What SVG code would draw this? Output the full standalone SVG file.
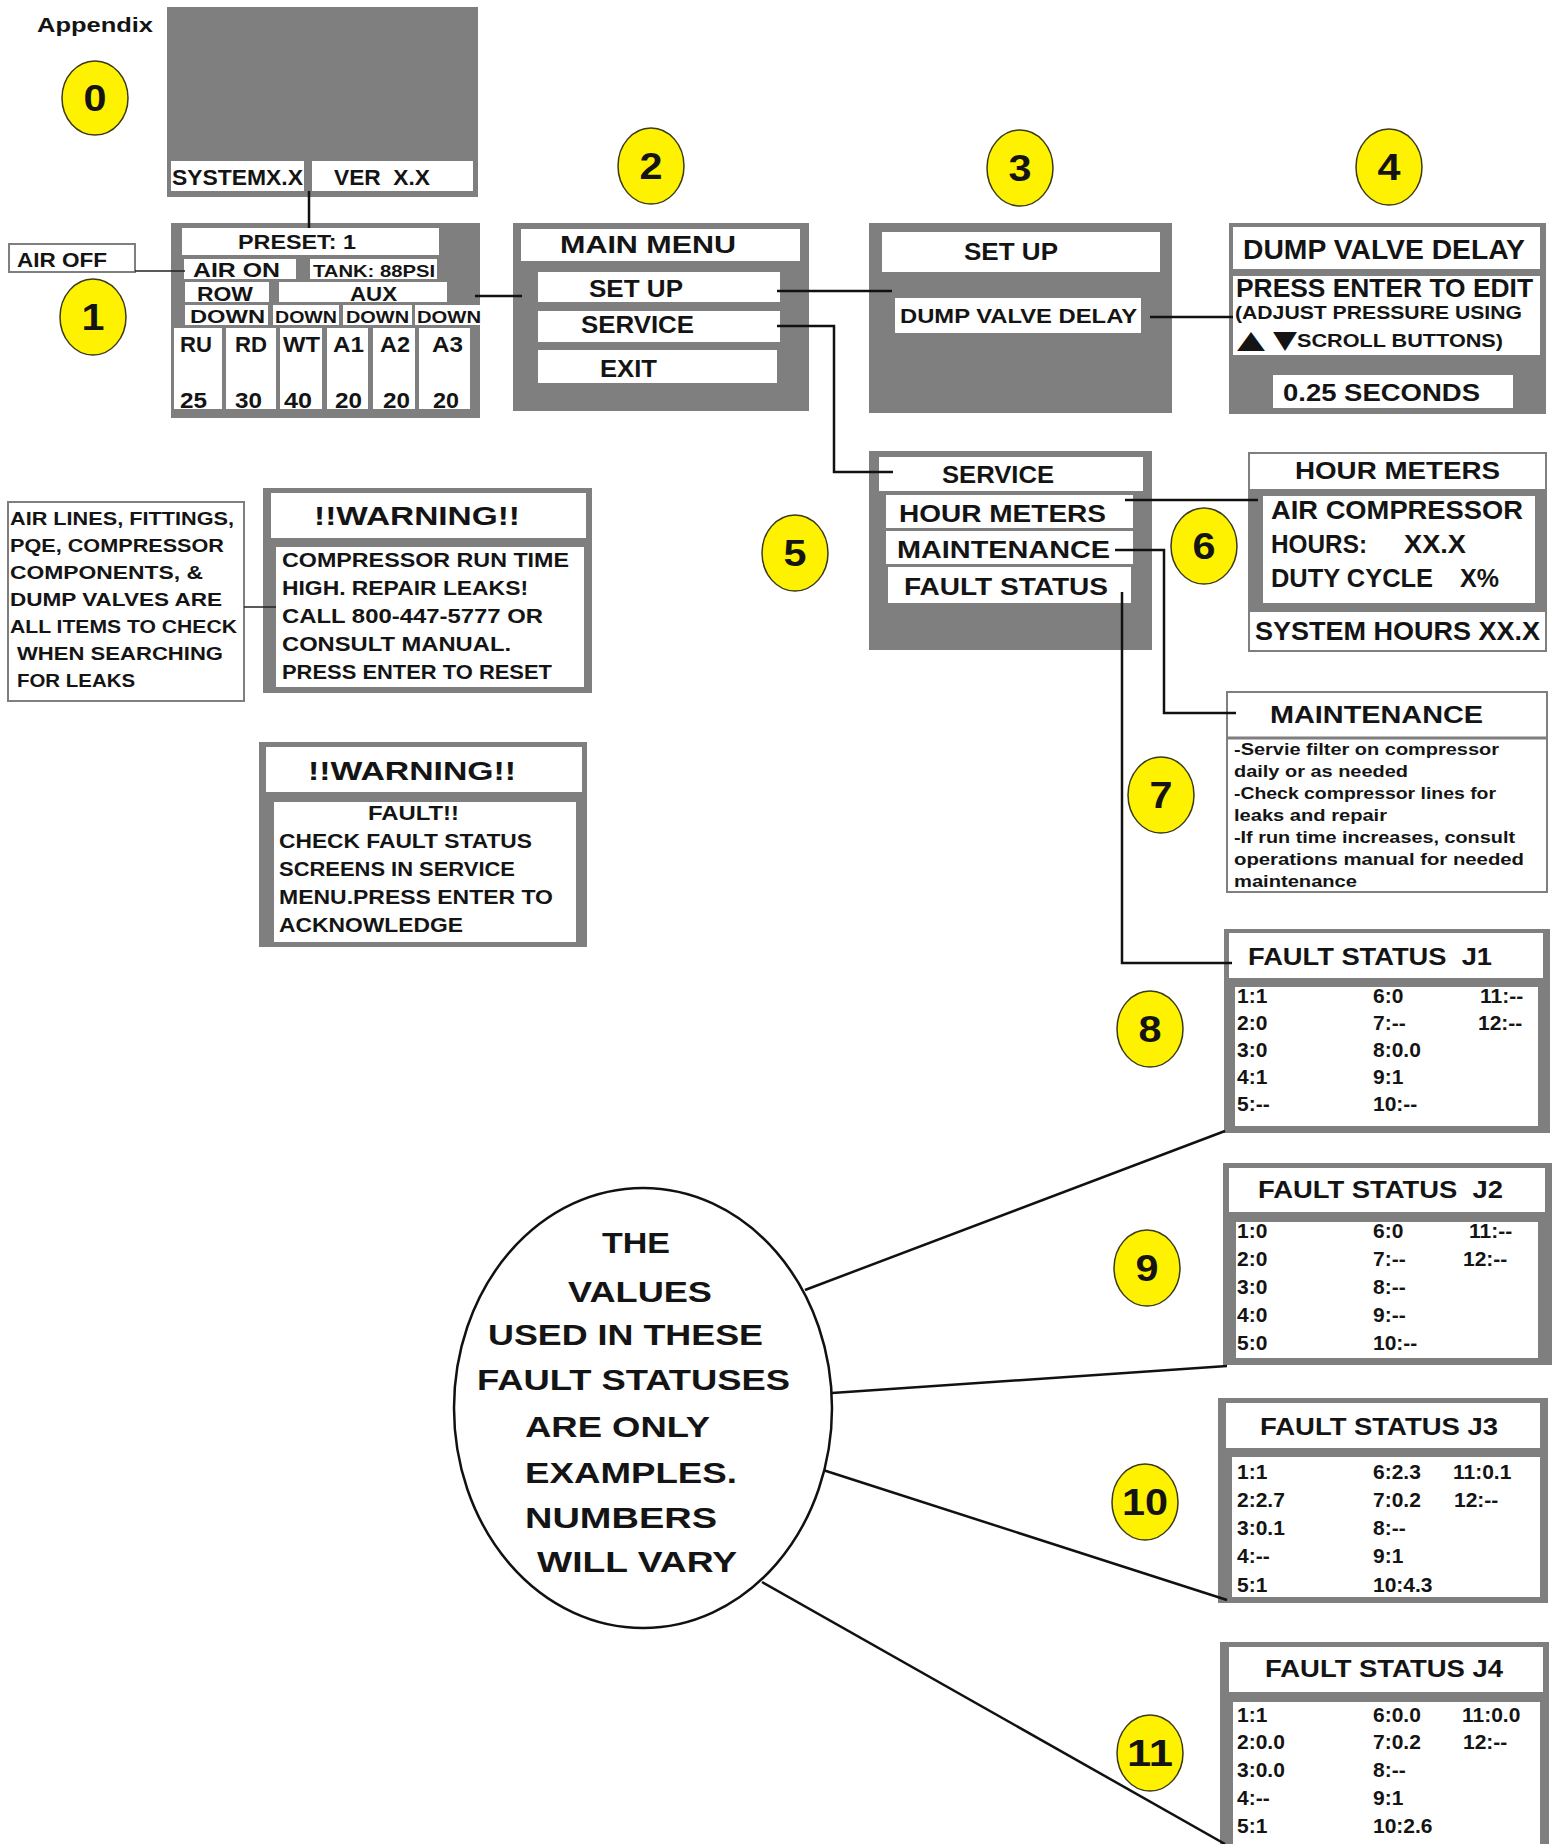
<svg xmlns="http://www.w3.org/2000/svg" width="1554" height="1844" viewBox="0 0 1554 1844">
<style>
text{font-family:"Liberation Sans",Arial,sans-serif;font-weight:bold;fill:#141414}
.g{fill:#7f7f7f}
.w{fill:#ffffff}
.wb{fill:#ffffff;stroke:#7f7f7f;stroke-width:2}
.c{fill:#fff200;stroke:#3a3a1a;stroke-width:1.5}
.n{font-size:36px;text-anchor:middle}
.cn{fill:none;stroke:#111;stroke-width:2.5}
.cs{fill:none;stroke:#222;stroke-width:1.5}
.r{font-size:21px}
</style>
<rect width="1554" height="1844" fill="#ffffff"/>
<text x="37" y="32" font-size="20" textLength="116" lengthAdjust="spacingAndGlyphs">Appendix</text>

<g id="screen0">
<rect class="g" x="167" y="7" width="311" height="190"/>
<rect class="w" x="171" y="161" width="133" height="30"/>
<rect class="w" x="312" y="161" width="161" height="30"/>
<text x="172" y="185" font-size="22" textLength="131" lengthAdjust="spacingAndGlyphs">SYSTEMX.X</text>
<text x="334" y="185" font-size="22" textLength="96" lengthAdjust="spacingAndGlyphs">VER&#160; X.X</text>
</g>

<g id="airoff">
<rect class="wb" x="9" y="244" width="126" height="28"/>
<text x="17" y="267" font-size="21" textLength="90" lengthAdjust="spacingAndGlyphs">AIR OFF</text>
</g>

<g id="screen1">
<rect class="g" x="171" y="223" width="309" height="195"/>
<rect class="w" x="182" y="228" width="257" height="27"/>
<rect class="w" x="184" y="259" width="112" height="20"/>
<rect class="w" x="310" y="259" width="127" height="20"/>
<rect class="w" x="185" y="282" width="84" height="20"/>
<rect class="w" x="279" y="282" width="168" height="20"/>
<rect class="w" x="185" y="305" width="83" height="20"/>
<rect class="w" x="273" y="305" width="66" height="20"/>
<rect class="w" x="343" y="305" width="69" height="20"/>
<rect class="w" x="415" y="305" width="65" height="20"/>
<rect class="w" x="174" y="328" width="48" height="81"/>
<rect class="w" x="226" y="328" width="50" height="81"/>
<rect class="w" x="280" y="328" width="42" height="81"/>
<rect class="w" x="327" y="328" width="41" height="81"/>
<rect class="w" x="373" y="328" width="42" height="81"/>
<rect class="w" x="419" y="328" width="51" height="81"/>
<text x="238" y="249" font-size="20" textLength="118" lengthAdjust="spacingAndGlyphs">PRESET: 1</text>
<text x="193" y="277" font-size="21" textLength="87" lengthAdjust="spacingAndGlyphs">AIR ON</text>
<text x="313" y="277" font-size="17" textLength="122" lengthAdjust="spacingAndGlyphs">TANK: 88PSI</text>
<text x="197" y="301" font-size="20" textLength="56" lengthAdjust="spacingAndGlyphs">ROW</text>
<text x="350" y="301" font-size="20" textLength="47" lengthAdjust="spacingAndGlyphs">AUX</text>
<text x="190" y="323" font-size="19" textLength="75" lengthAdjust="spacingAndGlyphs">DOWN</text>
<text x="275" y="323" font-size="16" textLength="62" lengthAdjust="spacingAndGlyphs">DOWN</text>
<text x="346" y="323" font-size="16" textLength="63" lengthAdjust="spacingAndGlyphs">DOWN</text>
<text x="417" y="323" font-size="16" textLength="64" lengthAdjust="spacingAndGlyphs">DOWN</text>
<text x="180" y="352" font-size="22" textLength="32" lengthAdjust="spacingAndGlyphs">RU</text>
<text x="235" y="352" font-size="22" textLength="32" lengthAdjust="spacingAndGlyphs">RD</text>
<text x="283" y="352" font-size="22" textLength="37" lengthAdjust="spacingAndGlyphs">WT</text>
<text x="333" y="352" font-size="22" textLength="31" lengthAdjust="spacingAndGlyphs">A1</text>
<text x="380" y="352" font-size="22" textLength="30" lengthAdjust="spacingAndGlyphs">A2</text>
<text x="432" y="352" font-size="22" textLength="31" lengthAdjust="spacingAndGlyphs">A3</text>
<text x="180" y="408" font-size="22" textLength="27" lengthAdjust="spacingAndGlyphs">25</text>
<text x="235" y="408" font-size="22" textLength="27" lengthAdjust="spacingAndGlyphs">30</text>
<text x="284" y="408" font-size="22" textLength="28" lengthAdjust="spacingAndGlyphs">40</text>
<text x="335" y="408" font-size="22" textLength="27" lengthAdjust="spacingAndGlyphs">20</text>
<text x="383" y="408" font-size="22" textLength="27" lengthAdjust="spacingAndGlyphs">20</text>
<text x="433" y="408" font-size="22" textLength="26" lengthAdjust="spacingAndGlyphs">20</text>
</g>

<g id="mainmenu">
<rect class="g" x="513" y="223" width="296" height="188"/>
<rect class="w" x="521" y="229" width="279" height="32"/>
<rect class="w" x="538" y="272" width="242" height="30"/>
<rect class="w" x="538" y="311" width="242" height="31"/>
<rect class="w" x="538" y="350" width="239" height="33"/>
<text x="560" y="253" font-size="24" textLength="176" lengthAdjust="spacingAndGlyphs">MAIN MENU</text>
<text x="589" y="297" font-size="24" textLength="94" lengthAdjust="spacingAndGlyphs">SET UP</text>
<text x="581" y="333" font-size="24" textLength="113" lengthAdjust="spacingAndGlyphs">SERVICE</text>
<text x="600" y="377" font-size="24" textLength="57" lengthAdjust="spacingAndGlyphs">EXIT</text>
</g>

<g id="setup">
<rect class="g" x="869" y="223" width="303" height="190"/>
<rect class="w" x="882" y="232" width="278" height="40"/>
<rect class="w" x="895" y="298" width="246" height="35"/>
<text x="964" y="260" font-size="24" textLength="94" lengthAdjust="spacingAndGlyphs">SET UP</text>
<text x="900" y="323" font-size="21" textLength="237" lengthAdjust="spacingAndGlyphs">DUMP VALVE DELAY</text>
</g>

<g id="dumpvalve">
<rect class="g" x="1229" y="223" width="317" height="191"/>
<rect class="w" x="1233" y="227" width="307" height="42"/>
<rect class="w" x="1233" y="276" width="307" height="79"/>
<rect class="w" x="1273" y="375" width="240" height="33"/>
<text x="1243" y="259" font-size="27" textLength="282" lengthAdjust="spacingAndGlyphs">DUMP VALVE DELAY</text>
<text x="1236" y="297" font-size="25" textLength="297" lengthAdjust="spacingAndGlyphs">PRESS ENTER TO EDIT</text>
<text x="1235" y="319" font-size="19" textLength="287" lengthAdjust="spacingAndGlyphs">(ADJUST PRESSURE USING</text>
<text x="1237" y="348" font-size="25" style="font-family:'DejaVu Sans',sans-serif" textLength="28" lengthAdjust="spacingAndGlyphs">▲</text>
<text x="1273" y="348" font-size="25" style="font-family:'DejaVu Sans',sans-serif" textLength="24" lengthAdjust="spacingAndGlyphs">▼</text>
<text x="1297" y="347" font-size="19" textLength="206" lengthAdjust="spacingAndGlyphs">SCROLL BUTTONS)</text>
<text x="1283" y="401" font-size="24" textLength="197" lengthAdjust="spacingAndGlyphs">0.25 SECONDS</text>
</g>

<g id="service">
<rect class="g" x="869" y="451" width="283" height="199"/>
<rect class="w" x="879" y="457" width="264" height="34"/>
<rect class="w" x="886" y="495" width="247" height="33"/>
<rect class="w" x="886" y="531" width="247" height="33"/>
<rect class="w" x="888" y="567" width="243" height="36"/>
<text x="942" y="483" font-size="24" textLength="112" lengthAdjust="spacingAndGlyphs">SERVICE</text>
<text x="899" y="522" font-size="24" textLength="207" lengthAdjust="spacingAndGlyphs">HOUR METERS</text>
<text x="897" y="558" font-size="24" textLength="213" lengthAdjust="spacingAndGlyphs">MAINTENANCE</text>
<text x="904" y="595" font-size="24" textLength="204" lengthAdjust="spacingAndGlyphs">FAULT STATUS</text>
</g>

<g id="hourmeters">
<rect class="wb" x="1249" y="453" width="297" height="198"/>
<rect class="g" x="1250" y="489" width="295" height="123"/>
<rect class="w" x="1263" y="496" width="272" height="107"/>
<text x="1295" y="479" font-size="24" textLength="205" lengthAdjust="spacingAndGlyphs">HOUR METERS</text>
<text x="1271" y="519" font-size="25" textLength="252" lengthAdjust="spacingAndGlyphs">AIR COMPRESSOR</text>
<text x="1271" y="553" font-size="25" textLength="96" lengthAdjust="spacingAndGlyphs">HOURS:</text>
<text x="1404" y="553" font-size="25" textLength="62" lengthAdjust="spacingAndGlyphs">XX.X</text>
<text x="1271" y="587" font-size="25" textLength="162" lengthAdjust="spacingAndGlyphs">DUTY CYCLE</text>
<text x="1460" y="587" font-size="25" textLength="39" lengthAdjust="spacingAndGlyphs">X%</text>
<text x="1255" y="640" font-size="25" textLength="285" lengthAdjust="spacingAndGlyphs">SYSTEM HOURS XX.X</text>
</g>

<g id="maintenance">
<rect class="wb" x="1227" y="692" width="320" height="200"/>
<line x1="1227" y1="738" x2="1547" y2="738" stroke="#7f7f7f" stroke-width="3"/>
<text x="1270" y="723" font-size="24" textLength="213" lengthAdjust="spacingAndGlyphs">MAINTENANCE</text>
<text x="1234" y="755" font-size="16" textLength="265" lengthAdjust="spacingAndGlyphs">-Servie filter on compressor</text>
<text x="1234" y="777" font-size="16" textLength="174" lengthAdjust="spacingAndGlyphs">daily or as needed</text>
<text x="1234" y="799" font-size="16" textLength="262" lengthAdjust="spacingAndGlyphs">-Check compressor lines for</text>
<text x="1234" y="821" font-size="16" textLength="153" lengthAdjust="spacingAndGlyphs">leaks and repair</text>
<text x="1234" y="843" font-size="16" textLength="281" lengthAdjust="spacingAndGlyphs">-If run time increases, consult</text>
<text x="1234" y="865" font-size="16" textLength="290" lengthAdjust="spacingAndGlyphs">operations manual for needed</text>
<text x="1234" y="887" font-size="16" textLength="123" lengthAdjust="spacingAndGlyphs">maintenance</text>
</g>

<g id="leaknote">
<rect class="wb" x="8" y="502" width="236" height="199"/>
<text x="10" y="525" font-size="19" textLength="224" lengthAdjust="spacingAndGlyphs">AIR LINES, FITTINGS,</text>
<text x="10" y="552" font-size="19" textLength="214" lengthAdjust="spacingAndGlyphs">PQE, COMPRESSOR</text>
<text x="10" y="579" font-size="19" textLength="193" lengthAdjust="spacingAndGlyphs">COMPONENTS, &amp;</text>
<text x="10" y="606" font-size="19" textLength="212" lengthAdjust="spacingAndGlyphs">DUMP VALVES ARE</text>
<text x="10" y="633" font-size="19" textLength="227" lengthAdjust="spacingAndGlyphs">ALL ITEMS TO CHECK</text>
<text x="17" y="660" font-size="19" textLength="206" lengthAdjust="spacingAndGlyphs">WHEN SEARCHING</text>
<text x="17" y="687" font-size="19" textLength="118" lengthAdjust="spacingAndGlyphs">FOR LEAKS</text>
</g>

<g id="warning1">
<rect class="g" x="263" y="488" width="329" height="205"/>
<rect class="w" x="271" y="493" width="315" height="45"/>
<rect class="w" x="276" y="547" width="308" height="140"/>
<text x="314" y="525" font-size="26" textLength="206" lengthAdjust="spacingAndGlyphs">!!WARNING!!</text>
<text x="282" y="567" font-size="20" textLength="287" lengthAdjust="spacingAndGlyphs">COMPRESSOR RUN TIME</text>
<text x="282" y="595" font-size="20" textLength="246" lengthAdjust="spacingAndGlyphs">HIGH. REPAIR LEAKS!</text>
<text x="282" y="623" font-size="20" textLength="261" lengthAdjust="spacingAndGlyphs">CALL 800-447-5777 OR</text>
<text x="282" y="651" font-size="20" textLength="229" lengthAdjust="spacingAndGlyphs">CONSULT MANUAL.</text>
<text x="282" y="679" font-size="20" textLength="270" lengthAdjust="spacingAndGlyphs">PRESS ENTER TO RESET</text>
</g>

<g id="warning2">
<rect class="g" x="259" y="742" width="328" height="205"/>
<rect class="w" x="266" y="747" width="316" height="45"/>
<rect class="w" x="274" y="802" width="302" height="140"/>
<text x="308" y="780" font-size="26" textLength="208" lengthAdjust="spacingAndGlyphs">!!WARNING!!</text>
<text x="368" y="820" font-size="20" textLength="91" lengthAdjust="spacingAndGlyphs">FAULT!!</text>
<text x="279" y="848" font-size="20" textLength="253" lengthAdjust="spacingAndGlyphs">CHECK FAULT STATUS</text>
<text x="279" y="876" font-size="20" textLength="236" lengthAdjust="spacingAndGlyphs">SCREENS IN SERVICE</text>
<text x="279" y="904" font-size="20" textLength="274" lengthAdjust="spacingAndGlyphs">MENU.PRESS ENTER TO</text>
<text x="279" y="932" font-size="20" textLength="184" lengthAdjust="spacingAndGlyphs">ACKNOWLEDGE</text>
</g>

<g id="faultJ1">
<rect class="g" x="1224" y="929" width="326" height="204"/>
<rect class="w" x="1229" y="933" width="314" height="45"/>
<rect class="w" x="1235" y="987" width="303" height="139"/>
<text x="1248" y="965" font-size="24" textLength="244" lengthAdjust="spacingAndGlyphs">FAULT STATUS&#160; J1</text>
<text class="r" x="1237" y="1003">1:1</text><text class="r" x="1373" y="1003">6:0</text><text class="r" x="1480" y="1003">11:--</text>
<text class="r" x="1237" y="1030">2:0</text><text class="r" x="1373" y="1030">7:--</text><text class="r" x="1478" y="1030">12:--</text>
<text class="r" x="1237" y="1057">3:0</text><text class="r" x="1373" y="1057">8:0.0</text>
<text class="r" x="1237" y="1084">4:1</text><text class="r" x="1373" y="1084">9:1</text>
<text class="r" x="1237" y="1111">5:--</text><text class="r" x="1373" y="1111">10:--</text>
</g>

<g id="faultJ2">
<rect class="g" x="1223" y="1163" width="329" height="202"/>
<rect class="w" x="1229" y="1168" width="316" height="44"/>
<rect class="w" x="1236" y="1222" width="302" height="136"/>
<text x="1258" y="1198" font-size="24" textLength="245" lengthAdjust="spacingAndGlyphs">FAULT STATUS&#160; J2</text>
<text class="r" x="1237" y="1238">1:0</text><text class="r" x="1373" y="1238">6:0</text><text class="r" x="1469" y="1238">11:--</text>
<text class="r" x="1237" y="1266">2:0</text><text class="r" x="1373" y="1266">7:--</text><text class="r" x="1463" y="1266">12:--</text>
<text class="r" x="1237" y="1294">3:0</text><text class="r" x="1373" y="1294">8:--</text>
<text class="r" x="1237" y="1322">4:0</text><text class="r" x="1373" y="1322">9:--</text>
<text class="r" x="1237" y="1350">5:0</text><text class="r" x="1373" y="1350">10:--</text>
</g>

<g id="faultJ3">
<rect class="g" x="1218" y="1398" width="330" height="205"/>
<rect class="w" x="1226" y="1403" width="314" height="45"/>
<rect class="w" x="1232" y="1457" width="308" height="140"/>
<text x="1260" y="1435" font-size="24" textLength="238" lengthAdjust="spacingAndGlyphs">FAULT STATUS J3</text>
<text class="r" x="1237" y="1479">1:1</text><text class="r" x="1373" y="1479">6:2.3</text><text class="r" x="1453" y="1479">11:0.1</text>
<text class="r" x="1237" y="1507">2:2.7</text><text class="r" x="1373" y="1507">7:0.2</text><text class="r" x="1454" y="1507">12:--</text>
<text class="r" x="1237" y="1535">3:0.1</text><text class="r" x="1373" y="1535">8:--</text>
<text class="r" x="1237" y="1563">4:--</text><text class="r" x="1373" y="1563">9:1</text>
<text class="r" x="1237" y="1592">5:1</text><text class="r" x="1373" y="1592">10:4.3</text>
</g>

<g id="faultJ4">
<rect class="g" x="1220" y="1642" width="329" height="210"/>
<rect class="w" x="1229" y="1647" width="314" height="45"/>
<rect class="w" x="1233" y="1702" width="307" height="150"/>
<text x="1265" y="1677" font-size="24" textLength="238" lengthAdjust="spacingAndGlyphs">FAULT STATUS J4</text>
<text class="r" x="1237" y="1722">1:1</text><text class="r" x="1373" y="1722">6:0.0</text><text class="r" x="1462" y="1722">11:0.0</text>
<text class="r" x="1237" y="1749">2:0.0</text><text class="r" x="1373" y="1749">7:0.2</text><text class="r" x="1463" y="1749">12:--</text>
<text class="r" x="1237" y="1777">3:0.0</text><text class="r" x="1373" y="1777">8:--</text>
<text class="r" x="1237" y="1805">4:--</text><text class="r" x="1373" y="1805">9:1</text>
<text class="r" x="1237" y="1833">5:1</text><text class="r" x="1373" y="1833">10:2.6</text>
</g>

<g id="connectors">
<line class="cn" x1="309" y1="191" x2="309" y2="228"/>
<line class="cs" x1="135" y1="271" x2="185" y2="271"/>
<line class="cn" x1="475" y1="296" x2="522" y2="296"/>
<line class="cn" x1="777" y1="291" x2="892" y2="291"/>
<line class="cn" x1="1150" y1="317" x2="1233" y2="317"/>
<polyline class="cn" points="777,326 834,326 834,472 893,472"/>
<line class="cn" x1="1125" y1="500" x2="1258" y2="500"/>
<polyline class="cn" points="1115,550 1164,550 1164,713 1236,713"/>
<polyline class="cn" points="1122,592 1122,963 1232,963"/>
<line class="cs" x1="244" y1="607" x2="276" y2="607"/>
<line class="cn" x1="805" y1="1290" x2="1225" y2="1131"/>
<line class="cn" x1="832" y1="1393" x2="1227" y2="1366"/>
<line class="cn" x1="823" y1="1470" x2="1227" y2="1600"/>
<line class="cn" x1="762" y1="1582" x2="1225" y2="1844"/>
</g>

<g id="note">
<ellipse cx="643" cy="1408" rx="189" ry="220" fill="#ffffff" stroke="#111" stroke-width="2.5"/>
<text x="602" y="1253" font-size="30" textLength="68" lengthAdjust="spacingAndGlyphs">THE</text>
<text x="568" y="1302" font-size="30" textLength="144" lengthAdjust="spacingAndGlyphs">VALUES</text>
<text x="488" y="1345" font-size="30" textLength="275" lengthAdjust="spacingAndGlyphs">USED IN THESE</text>
<text x="477" y="1390" font-size="30" textLength="313" lengthAdjust="spacingAndGlyphs">FAULT STATUSES</text>
<text x="525" y="1437" font-size="30" textLength="185" lengthAdjust="spacingAndGlyphs">ARE ONLY</text>
<text x="525" y="1483" font-size="30" textLength="212" lengthAdjust="spacingAndGlyphs">EXAMPLES.</text>
<text x="525" y="1528" font-size="30" textLength="192" lengthAdjust="spacingAndGlyphs">NUMBERS</text>
<text x="537" y="1572" font-size="30" textLength="200" lengthAdjust="spacingAndGlyphs">WILL VARY</text>
</g>

<g id="badges">
<g id="badge0"><ellipse class="c" cx="95" cy="98" rx="33" ry="37"/><text class="n" x="95" y="111" textLength="23" lengthAdjust="spacingAndGlyphs">0</text></g>
<g id="badge1"><ellipse class="c" cx="93" cy="317" rx="33" ry="38"/><text class="n" x="93" y="330" textLength="23" lengthAdjust="spacingAndGlyphs">1</text></g>
<g id="badge2"><ellipse class="c" cx="651" cy="166" rx="33" ry="38"/><text class="n" x="651" y="179" textLength="23" lengthAdjust="spacingAndGlyphs">2</text></g>
<g id="badge3"><ellipse class="c" cx="1020" cy="168" rx="33" ry="38"/><text class="n" x="1020" y="181" textLength="23" lengthAdjust="spacingAndGlyphs">3</text></g>
<g id="badge4"><ellipse class="c" cx="1389" cy="167" rx="33" ry="38"/><text class="n" x="1389" y="180" textLength="23" lengthAdjust="spacingAndGlyphs">4</text></g>
<g id="badge5"><ellipse class="c" cx="795" cy="553" rx="33" ry="38"/><text class="n" x="795" y="566" textLength="23" lengthAdjust="spacingAndGlyphs">5</text></g>
<g id="badge6"><ellipse class="c" cx="1204" cy="546" rx="33" ry="38"/><text class="n" x="1204" y="559" textLength="23" lengthAdjust="spacingAndGlyphs">6</text></g>
<g id="badge7"><ellipse class="c" cx="1161" cy="795" rx="33" ry="38"/><text class="n" x="1161" y="808" textLength="23" lengthAdjust="spacingAndGlyphs">7</text></g>
<g id="badge8"><ellipse class="c" cx="1150" cy="1029" rx="33" ry="38"/><text class="n" x="1150" y="1042" textLength="23" lengthAdjust="spacingAndGlyphs">8</text></g>
<g id="badge9"><ellipse class="c" cx="1147" cy="1268" rx="33" ry="38"/><text class="n" x="1147" y="1281" textLength="23" lengthAdjust="spacingAndGlyphs">9</text></g>
<g id="badge10"><ellipse class="c" cx="1145" cy="1502" rx="33" ry="38"/><text class="n" x="1145" y="1515" textLength="46" lengthAdjust="spacingAndGlyphs">10</text></g>
<g id="badge11"><ellipse class="c" cx="1150" cy="1753" rx="33" ry="38"/><text class="n" x="1150" y="1766" textLength="46" lengthAdjust="spacingAndGlyphs">11</text></g>
</g>
</svg>
